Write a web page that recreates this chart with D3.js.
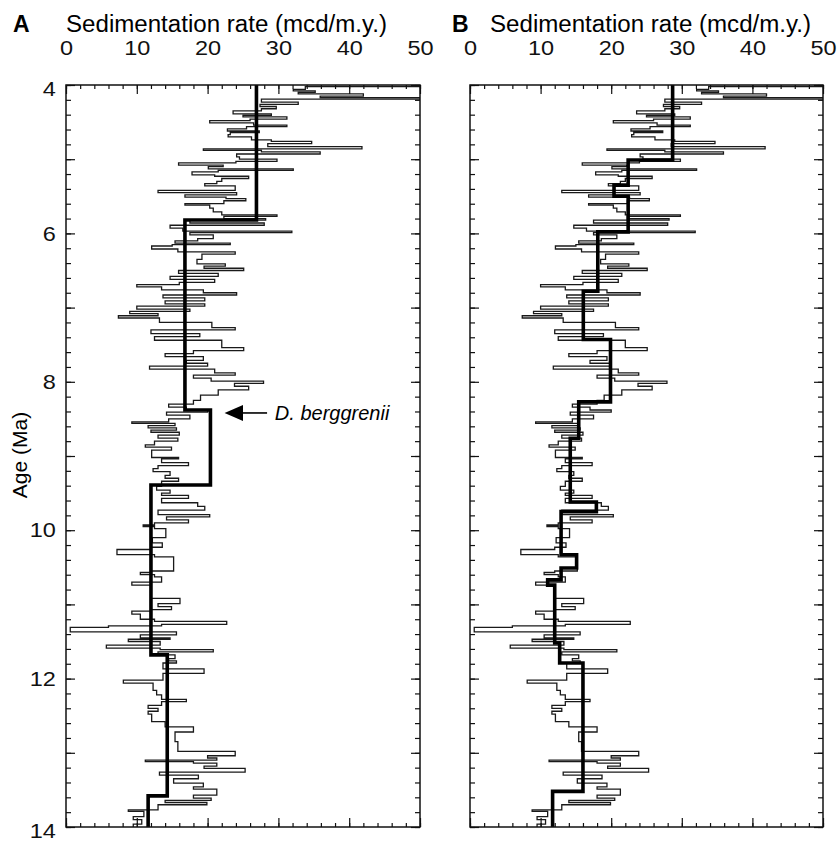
<!DOCTYPE html>
<html>
<head>
<meta charset="utf-8">
<script src="https://cdnjs.cloudflare.com/ajax/libs/d3/7.8.5/d3.min.js"></script>
<style>
    body { margin: 0; background: #fff; }
    svg { font-family: "Liberation Sans", Arial, Helvetica, sans-serif; }
    .axis path.domain { display: none; }
    .axis line { stroke: #111; stroke-width: 1.2; }
    .axis text { font-family: "Liberation Sans", Arial, Helvetica, sans-serif; font-size: 21px; fill: #111; }
</style>
</head>
<body>
<script>
// high resolution sedimentation rate (same record in both panels), rate holds from age to next age
var thinAges = [4.00, 4.02, 4.06, 4.08, 4.10, 4.12, 4.15, 4.17, 4.19, 4.23, 4.26, 4.29, 4.32, 4.35, 4.39, 4.41,
    4.43, 4.46, 4.48, 4.51, 4.54, 4.56, 4.59, 4.62, 4.64, 4.67, 4.70, 4.74, 4.76, 4.79, 4.83, 4.86,
    4.88, 4.90, 4.93, 4.97, 5.00, 5.03, 5.05, 5.08, 5.10, 5.13, 5.15, 5.17, 5.21, 5.23, 5.26, 5.30,
    5.33, 5.36, 5.42, 5.45, 5.48, 5.51, 5.53, 5.56, 5.60, 5.62, 5.66, 5.71, 5.75, 5.77, 5.80, 5.82,
    5.86, 5.89, 5.93, 5.97, 5.99, 6.02, 6.07, 6.10, 6.13, 6.15, 6.17, 6.21, 6.25, 6.28, 6.35, 6.41,
    6.44, 6.47, 6.50, 6.54, 6.58, 6.62, 6.66, 6.69, 6.72, 6.76, 6.80, 6.83, 6.87, 6.91, 6.95, 6.98,
    7.02, 7.05, 7.08, 7.11, 7.14, 7.20, 7.27, 7.30, 7.35, 7.39, 7.44, 7.54, 7.58, 7.62, 7.66, 7.71,
    7.75, 7.79, 7.83, 7.88, 7.91, 7.95, 7.99, 8.02, 8.06, 8.11, 8.18, 8.25, 8.30, 8.34, 8.38, 8.41,
    8.45, 8.50, 8.54, 8.56, 8.59, 8.62, 8.65, 8.68, 8.72, 8.76, 8.80, 8.85, 8.88, 8.92, 9.02, 9.04,
    9.09, 9.13, 9.17, 9.21, 9.26, 9.30, 9.34, 9.41, 9.46, 9.50, 9.53, 9.57, 9.63, 9.68, 9.73, 9.79,
    9.82, 9.86, 9.90, 9.93, 9.95, 9.98, 10.10, 10.17, 10.23, 10.26, 10.33, 10.36, 10.55, 10.57, 10.60, 10.63,
    10.70, 10.74, 10.92, 10.99, 11.03, 11.07, 11.09, 11.13, 11.20, 11.23, 11.27, 11.29, 11.31, 11.37, 11.41, 11.45,
    11.47, 11.50, 11.55, 11.59, 11.61, 11.64, 11.68, 11.73, 11.76, 11.79, 11.87, 11.93, 12.02, 12.06, 12.16, 12.22,
    12.28, 12.31, 12.36, 12.40, 12.44, 12.48, 12.58, 12.65, 12.72, 12.85, 12.98, 13.04, 13.07, 13.10, 13.12, 13.14,
    13.18, 13.21, 13.26, 13.30, 13.35, 13.41, 13.46, 13.49, 13.57, 13.61, 13.64, 13.67, 13.70, 13.77, 13.79, 13.86,
    13.90, 13.96];
var thinRates = [58, 33.8, 32.1, 35.2, 32.8, 42.0, 35.9, 58, 27.6, 32.8, 27.4, 29.7, 27.6, 23.6, 29.0, 25.0,
    31.2, 26.0, 20.3, 26.5, 31.2, 25.5, 22.8, 27.3, 23.2, 22.9, 26.2, 29.0, 34.7, 28.5, 41.8, 19.4,
    27.6, 35.9, 24.1, 24.5, 29.8, 24.0, 15.9, 22.2, 20.1, 32.1, 21.5, 17.8, 21.0, 25.8, 22.0, 21.3,
    19.6, 23.9, 13.0, 24.1, 16.8, 22.6, 25.4, 22.3, 16.8, 20.3, 20.8, 22.0, 29.8, 22.3, 28.2, 17.5,
    28.0, 14.7, 16.5, 31.9, 17.5, 20.8, 18.6, 15.4, 23.2, 15.0, 12.1, 15.8, 23.9, 19.2, 18.5, 22.5,
    19.5, 25.1, 15.9, 21.5, 14.7, 21.0, 16.0, 10.0, 13.5, 19.4, 24.1, 13.7, 19.6, 14.0, 19.6, 10.0,
    17.5, 9.0, 13.0, 7.4, 13.2, 20.6, 23.9, 12.0, 18.9, 12.5, 22.0, 25.1, 18.0, 14.0, 19.4, 17.0,
    20.0, 11.8, 21.0, 23.9, 18.0, 20.5, 27.9, 23.8, 25.8, 21.5, 19.0, 18.0, 14.5, 17.0, 20.0, 14.2,
    17.5, 14.5, 9.3, 15.4, 11.6, 15.6, 12.0, 16.0, 13.0, 15.8, 12.5, 11.2, 14.9, 12.1, 15.9, 13.5,
    17.3, 13.0, 12.3, 14.7, 14.0, 15.9, 13.5, 12.8, 14.7, 13.5, 17.3, 13.5, 18.6, 19.6, 13.0, 20.3,
    14.2, 17.3, 12.5, 10.9, 12.5, 14.1, 12.2, 13.6, 12.0, 7.2, 12.5, 15.2, 12.0, 10.5, 12.5, 13.5,
    9.3, 12.0, 16.1, 13.0, 14.9, 12.0, 9.3, 10.5, 12.5, 22.7, 13.5, 6.0, 0.6, 15.6, 10.5, 14.7,
    8.8, 13.3, 5.7, 13.3, 20.8, 13.0, 15.4, 14.5, 15.6, 13.7, 19.5, 13.7, 8.1, 12.3, 12.8, 13.5,
    17.0, 13.5, 11.6, 13.0, 11.6, 12.1, 14.0, 18.0, 15.4, 15.8, 23.9, 20.0, 21.3, 11.2, 18.0, 21.3,
    19.5, 25.3, 13.2, 18.7, 15.2, 19.4, 18.0, 21.3, 18.0, 20.5, 14.0, 19.9, 13.0, 8.8, 11.0, 9.5,
    10.7, 9.5];

// averaged rates, panel A
var avgAgesA = [4.00, 5.82, 8.38, 9.39, 11.68, 13.58];
var avgRatesA = [26.9, 16.8, 20.4, 12.0, 14.3, 11.6];

// averaged rates, panel B
var avgAgesB = [4.00, 5.01, 5.35, 5.50, 5.98, 6.78, 7.43, 8.27, 8.76, 9.62, 9.75, 10.33, 10.51, 10.67, 10.74, 11.52, 11.79, 13.52];
var avgRatesB = [28.7, 22.4, 20.4, 22.4, 18.1, 16.05, 19.9, 15.4, 14.2, 17.9, 12.9, 15.1, 12.9, 11.0, 12.0, 12.7, 16.0, 11.7];

var rateTicks = [0, 10, 20, 30, 40, 50];
var ageTicks = [4, 6, 8, 10, 12, 14];

var svgWidth = 838;
var svgHeight = 846;

var plotTop = 85;
var plotBottom = 827;

var svg = d3.select("body")
    .append("svg")
    .attr("width", svgWidth)
    .attr("height", svgHeight);

var yScale = d3.scaleLinear()
    .domain([4, 14])
    .range([plotTop, plotBottom]);

function stepPoints(ages, rates) {
    var pts = ages.map((a, i) => [rates[i], a]);
    pts.push([rates[rates.length - 1], 14]);
    return pts;
}

function drawPanel(p) {
    var xScale = d3.scaleLinear()
        .domain([0, 50])
        .range([p.left, p.right]);

    var clipId = "clip" + p.letter;
    svg.append("clipPath")
        .attr("id", clipId)
        .append("rect")
        .attr("x", p.left)
        .attr("y", plotTop)
        .attr("width", p.right - p.left)
        .attr("height", plotBottom - plotTop);

    var line = d3.line()
        .x(d => xScale(d[0]))
        .y(d => yScale(d[1]))
        .curve(d3.curveStepBefore);

    var plot = svg.append("g").attr("clip-path", `url(#${clipId})`);

    plot.append("path")
        .datum(stepPoints(thinAges, thinRates))
        .attr("d", line)
        .attr("fill", "none")
        .attr("stroke", "#1a1a1a")
        .attr("stroke-width", 1.3);

    plot.append("path")
        .datum(stepPoints(p.avgAges, p.avgRates))
        .attr("d", line)
        .attr("fill", "none")
        .attr("stroke", "#000")
        .attr("stroke-width", 3.6)
        .attr("stroke-linejoin", "miter");

    // top axis
    var topAxis = svg.append("g")
        .attr("class", "axis")
        .attr("transform", `translate(0, ${plotTop})`)
        .call(d3.axisTop(xScale).tickValues(rateTicks).tickSize(-9).tickPadding(30));
    topAxis.selectAll("text").attr("transform", "scale(1.12,1)");
    svg.append("g")
        .attr("class", "axis")
        .attr("transform", `translate(0, ${plotTop})`)
        .call(d3.axisTop(xScale).tickValues(d3.range(0, 51, 2)).tickSize(-4).tickFormat(""));

    // bottom axis
    svg.append("g")
        .attr("class", "axis")
        .attr("transform", `translate(0, ${plotBottom})`)
        .call(d3.axisBottom(xScale).tickValues(rateTicks).tickSize(-9).tickFormat(""));
    svg.append("g")
        .attr("class", "axis")
        .attr("transform", `translate(0, ${plotBottom})`)
        .call(d3.axisBottom(xScale).tickValues(d3.range(0, 51, 2)).tickSize(-4).tickFormat(""));

    // left axis
    var leftAxis = svg.append("g")
        .attr("class", "axis")
        .attr("transform", `translate(${p.left}, 0)`)
        .call(d3.axisLeft(yScale).tickValues(d3.range(4, 14.01, 1)).tickSize(-9).tickPadding(9)
            .tickFormat(d => (p.ageLabels && ageTicks.indexOf(Math.round(d)) >= 0) ? Math.round(d) : ""));
    leftAxis.selectAll("text")
        .attr("transform", d => `translate(0, ${d < 4.5 ? 4 : (d > 13.5 ? 4 : 0)}) scale(1.12,1)`);
    svg.append("g")
        .attr("class", "axis")
        .attr("transform", `translate(${p.left}, 0)`)
        .call(d3.axisLeft(yScale).tickValues(d3.range(4, 14.01, 0.2)).tickSize(-5).tickFormat(""));

    // right axis
    svg.append("g")
        .attr("class", "axis")
        .attr("transform", `translate(${p.right}, 0)`)
        .call(d3.axisRight(yScale).tickValues(d3.range(4, 14.01, 1)).tickSize(-9).tickFormat(""));
    svg.append("g")
        .attr("class", "axis")
        .attr("transform", `translate(${p.right}, 0)`)
        .call(d3.axisRight(yScale).tickValues(d3.range(4, 14.01, 0.2)).tickSize(-5).tickFormat(""));

    // frame
    svg.append("rect")
        .attr("x", p.left)
        .attr("y", plotTop)
        .attr("width", p.right - p.left)
        .attr("height", plotBottom - plotTop)
        .attr("fill", "none")
        .attr("stroke", "#111")
        .attr("stroke-width", 1.5);

    // panel letter and title
    svg.append("text")
        .attr("x", p.letterX)
        .attr("y", 32)
        .attr("font-size", 23)
        .attr("font-weight", "bold")
        .text(p.letter);
    svg.append("text")
        .attr("x", p.titleX)
        .attr("y", 32)
        .attr("font-size", 23)
        .attr("textLength", 321)
        .attr("lengthAdjust", "spacingAndGlyphs")
        .text("Sedimentation rate (mcd/m.y.)");

    return xScale;
}

var xA = drawPanel({ letter: "A", left: 66, right: 420, letterX: 13, titleX: 66,
    avgAges: avgAgesA, avgRates: avgRatesA, ageLabels: true });
var xB = drawPanel({ letter: "B", left: 470, right: 823, letterX: 452, titleX: 490,
    avgAges: avgAgesB, avgRates: avgRatesB, ageLabels: false });

// y axis title
svg.append("text")
    .attr("transform", "translate(27, 455) rotate(-90)")
    .attr("text-anchor", "middle")
    .attr("font-size", 21)
    .text("Age (Ma)");

// D. berggrenii marker
var markY = yScale(8.42);
svg.append("path")
    .attr("d", `M${xA(22.4)},${markY} L${xA(25)},${markY - 8} L${xA(25)},${markY + 8} Z`)
    .attr("fill", "#000");
svg.append("line")
    .attr("x1", xA(24.8))
    .attr("x2", xA(28.4))
    .attr("y1", markY)
    .attr("y2", markY)
    .attr("stroke", "#000")
    .attr("stroke-width", 1.6);
svg.append("text")
    .attr("x", xA(29.5))
    .attr("y", markY + 7)
    .attr("font-size", 20)
    .attr("font-style", "italic")
    .text("D. berggrenii");
</script>
</body>
</html>
